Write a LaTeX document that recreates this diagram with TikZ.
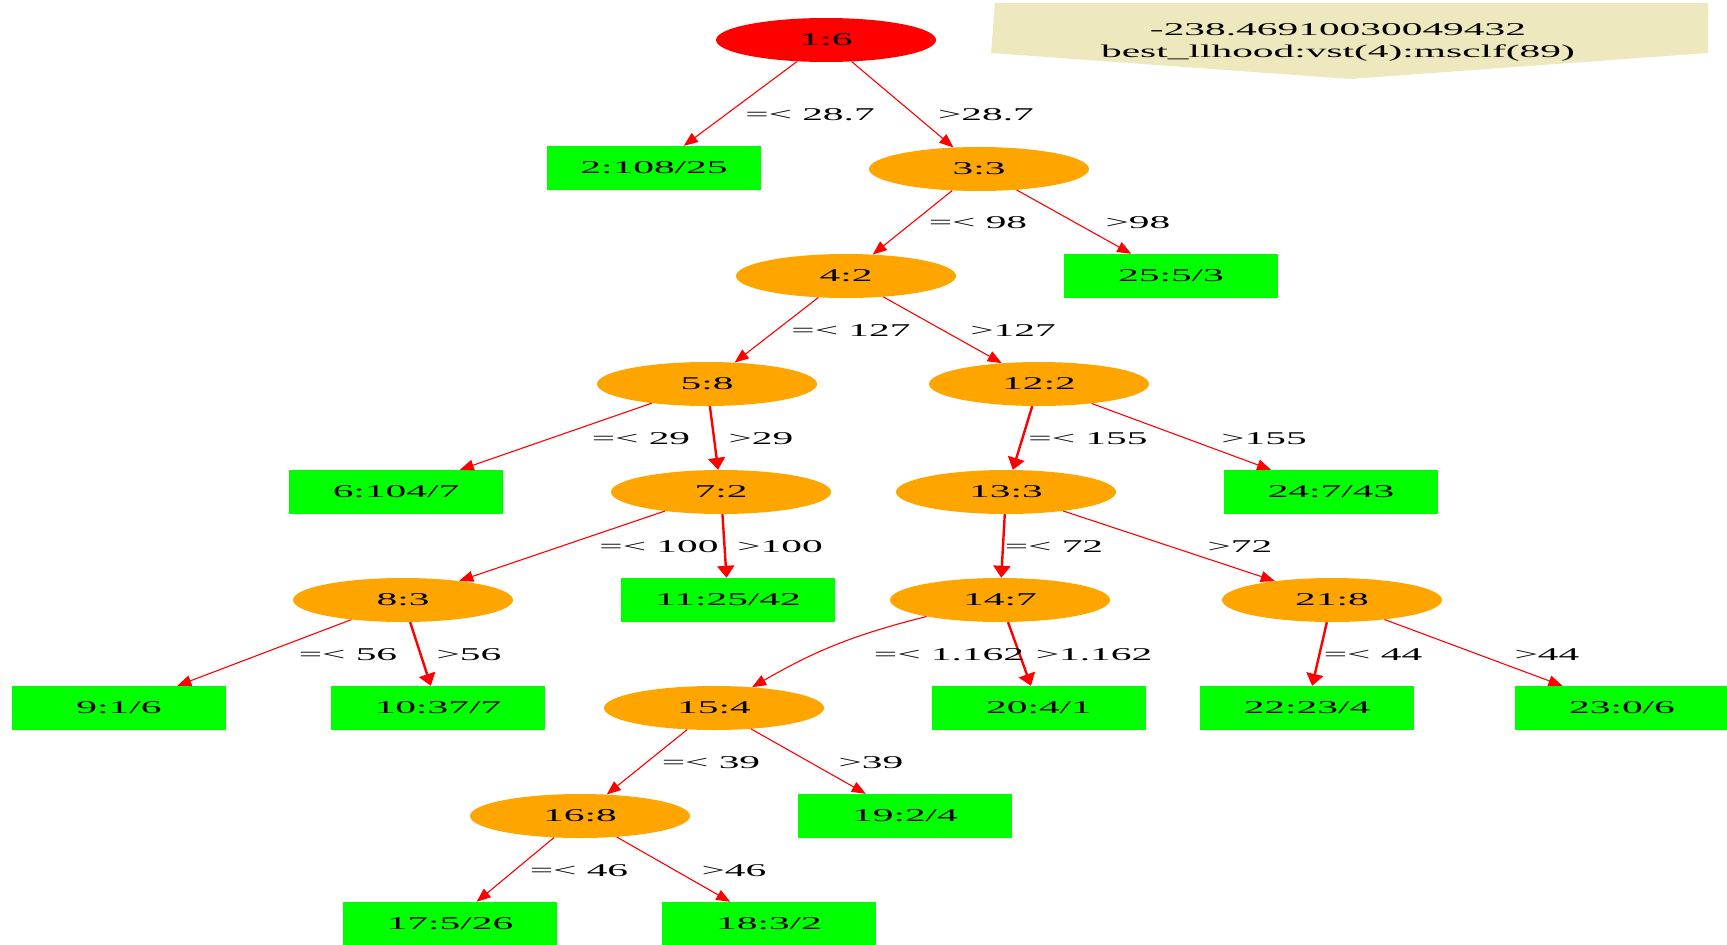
\documentclass[tikz,border=0pt]{standalone}
\usepackage{fontspec}
\setmainfont{Liberation Serif}[FakeStretch=2.3]
\usetikzlibrary{arrows.meta,shapes}

\definecolor{gvred}{RGB}{255,0,0}
\definecolor{gvorange}{RGB}{255,165,0}
\definecolor{gvgreen}{RGB}{0,255,0}
\definecolor{gvbeige}{RGB}{238,232,190}

\begin{document}
\begin{tikzpicture}[x=1pt,y=-1pt,
font=\fontsize{18}{22}\selectfont]
\tikzstyle{split}=[ellipse, fill=gvorange, minimum width=220pt, minimum height=44pt, inner sep=0pt]
\tikzstyle{rootsplit}=[split, fill=gvred]
\tikzstyle{leaf}=[rectangle, fill=gvgreen, minimum width=214pt, minimum height=44pt, inner sep=0pt]
\tikzstyle{cond}=[inner sep=0pt]
\tikzstyle{edgelo}=[draw=gvred, line width=1.1pt, -{Triangle[length=14pt,width=11pt]}]
\tikzstyle{edgehi}=[draw=gvred, line width=2.4pt, -{Triangle[length=12pt,width=17pt]}]

\useasboundingbox (0,0) rectangle (1727,945);

% score box
\fill[gvbeige] (995,3) -- (1708,3) -- (1708,53) -- (1350,79) -- (991,53) -- cycle;
\node[align=center, inner sep=0pt] (score) at (1338,42) {-238.46910030049432\\best\_llhood:vst(4):msclf(89)};

% tree
\node[rootsplit] (N1) at (826,40) {1:6};
\node[leaf] (N2) at (654,168) {2:108/25};
\node[split] (N3) at (979,169) {3:3};
\node[split] (N4) at (846,276) {4:2};
\node[leaf] (N25) at (1171,276) {25:5/3};
\node[split] (N5) at (707,384) {5:8};
\node[split] (N12) at (1039,384) {12:2};
\node[leaf] (N6) at (396,492) {6:104/7};
\node[split] (N7) at (721,492) {7:2};
\node[split] (N13) at (1006,492) {13:3};
\node[leaf] (N24) at (1331,492) {24:7/43};
\node[split] (N8) at (403,600) {8:3};
\node[leaf] (N11) at (728,600) {11:25/42};
\node[split] (N14) at (1000,600) {14:7};
\node[split] (N21) at (1332,600) {21:8};
\node[leaf] (N9) at (119,708) {9:1/6};
\node[leaf] (N10) at (438,708) {10:37/7};
\node[split] (N15) at (714,708) {15:4};
\node[leaf] (N20) at (1039,708) {20:4/1};
\node[leaf] (N22) at (1307,708) {22:23/4};
\node[leaf] (N23) at (1622,708) {23:0/6};
\node[split] (N16) at (580,816) {16:8};
\node[leaf] (N19) at (905,816) {19:2/4};
\node[leaf] (N17) at (450,924) {17:5/26};
\node[leaf] (N18) at (769,924) {18:3/2};

\path (N1) edge[edgelo] (N2);
\path (N1) edge[edgelo] (N3);
\path (N3) edge[edgelo] (N4);
\path (N3) edge[edgelo] (N25);
\path (N4) edge[edgelo] (N5);
\path (N4) edge[edgelo] (N12);
\path (N5) edge[edgelo] (N6);
\path (N5) edge[edgehi] (N7);
\path (N12) edge[edgehi] (N13);
\path (N12) edge[edgelo] (N24);
\path (N7) edge[edgelo] (N8);
\path (N7) edge[edgehi] (N11);
\path (N13) edge[edgehi] (N14);
\path (N13) edge[edgelo] (N21);
\path (N8) edge[edgelo] (N9);
\path (N8) edge[edgehi] (N10);
\path (N14) edge[edgelo, bend right=8] (N15);
\path (N14) edge[edgehi] (N20);
\path (N21) edge[edgehi] (N22);
\path (N21) edge[edgelo] (N23);
\path (N15) edge[edgelo] (N16);
\path (N15) edge[edgelo] (N19);
\path (N16) edge[edgelo] (N17);
\path (N16) edge[edgelo] (N18);

% split conditions
\node[cond] (c1a) at (810,115) {=< 28.7};
\node[cond] (c1b) at (986,115) {>28.7};
\node[cond] (c3a) at (978,223) {=< 98};
\node[cond] (c3b) at (1138,223) {>98};
\node[cond] (c4a) at (851,331) {=< 127};
\node[cond] (c4b) at (1013,331) {>127};
\node[cond] (c5a) at (641,439) {=< 29};
\node[cond] (c5b) at (761,439) {>29};
\node[cond] (c12a) at (1088,439) {=< 155};
\node[cond] (c12b) at (1264,439) {>155};
\node[cond] (c7a) at (659,547) {=< 100};
\node[cond] (c7b) at (780,547) {>100};
\node[cond] (c13a) at (1054,547) {=< 72};
\node[cond] (c13b) at (1240,547) {>72};
\node[cond] (c8a) at (348,655) {=< 56};
\node[cond] (c8b) at (469,655) {>56};
\node[cond] (c14a) at (949,655) {=< 1.162};
\node[cond] (c14b) at (1094,655) {>1.162};
\node[cond] (c21a) at (1373,655) {=< 44};
\node[cond] (c21b) at (1547,655) {>44};
\node[cond] (c15a) at (711,763) {=< 39};
\node[cond] (c15b) at (871,763) {>39};
\node[cond] (c16a) at (579,871) {=< 46};
\node[cond] (c16b) at (734,871) {>46};

\end{tikzpicture}
\end{document}
